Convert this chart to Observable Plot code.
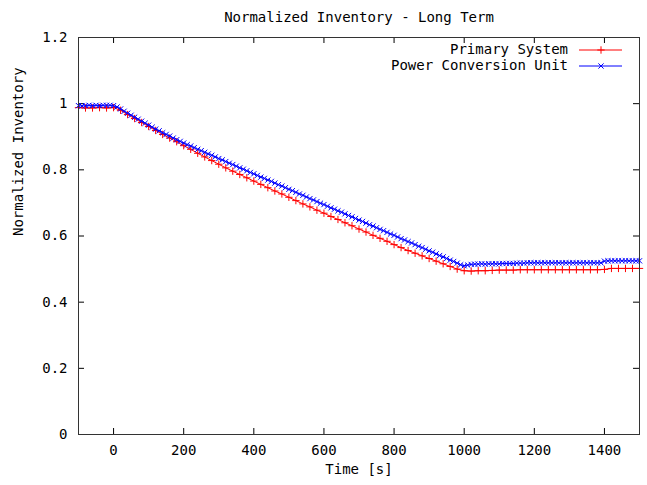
<!DOCTYPE html>
<html><head><meta charset="utf-8">
<script src="https://cdn.jsdelivr.net/npm/d3@7"></script>
<script src="https://cdn.jsdelivr.net/npm/@observablehq/plot@0.6"></script>
<style>body{margin:0;background:#fff;} svg{display:block}</style>
</head><body><div id="chart"></div>
<script>
const title = "Normalized Inventory - Long Term";
const xLabel = "Time [s]";
const yLabel = "Normalized Inventory";
const seriesNames = ["Primary System", "Power Conversion Unit"];
const seriesColors = ["#ff0000", "#0000ff"];
const seriesSymbols = ["plus", "times"];
const xTicks = [0, 200, 400, 600, 800, 1000, 1200, 1400];
const yTicks = [0, 0.2, 0.4, 0.6, 0.8, 1, 1.2];

// Primary System (sampled every 20 s)
const primaryTime = [
  -100,-80,-60,-40,-20,0,20,40,60,80,
  100,120,140,160,180,200,220,240,260,280,
  300,320,340,360,380,400,420,440,460,480,
  500,520,540,560,580,600,620,640,660,680,
  700,720,740,760,780,800,820,840,860,880,
  900,920,940,960,980,1000,1020,1040,1060,1080,
  1100,1120,1140,1160,1180,1200,1220,1240,1260,1280,
  1300,1320,1340,1360,1380,1400,1420,1440,1460,1480,
  1500];
const primaryValue = [
  0.988,0.987,0.987,0.988,0.987,0.988,0.980,0.967,0.955,0.943,
  0.931,0.919,0.907,0.896,0.885,0.873,0.862,0.850,0.839,0.828,
  0.817,0.806,0.796,0.786,0.776,0.766,0.756,0.746,0.736,0.727,
  0.717,0.707,0.697,0.688,0.678,0.669,0.659,0.650,0.640,0.631,
  0.621,0.612,0.602,0.593,0.584,0.574,0.565,0.556,0.548,0.540,
  0.532,0.524,0.516,0.508,0.500,0.495,0.494,0.495,0.495,0.496,
  0.497,0.497,0.497,0.498,0.498,0.498,0.498,0.498,0.498,0.498,
  0.498,0.498,0.498,0.498,0.498,0.499,0.502,0.502,0.502,0.502,
  0.502];

// Power Conversion Unit (sampled every 10 s)
const pcuTime = [
  -100,-90,-80,-70,-60,-50,-40,-30,-20,-10,
  0,10,20,30,40,50,60,70,80,90,
  100,110,120,130,140,150,160,170,180,190,
  200,210,220,230,240,250,260,270,280,290,
  300,310,320,330,340,350,360,370,380,390,
  400,410,420,430,440,450,460,470,480,490,
  500,510,520,530,540,550,560,570,580,590,
  600,610,620,630,640,650,660,670,680,690,
  700,710,720,730,740,750,760,770,780,790,
  800,810,820,830,840,850,860,870,880,890,
  900,910,920,930,940,950,960,970,980,990,
  1000,1010,1020,1030,1040,1050,1060,1070,1080,1090,
  1100,1110,1120,1130,1140,1150,1160,1170,1180,1190,
  1200,1210,1220,1230,1240,1250,1260,1270,1280,1290,
  1300,1310,1320,1330,1340,1350,1360,1370,1380,1390,
  1400,1410,1420,1430,1440,1450,1460,1470,1480,1490,
  1500];
const pcuValue = [
  0.994,0.993,0.994,0.995,0.994,0.995,0.994,0.995,0.995,0.995,
  0.994,0.990,0.984,0.977,0.971,0.965,0.959,0.953,0.947,0.941,
  0.935,0.929,0.923,0.918,0.912,0.907,0.902,0.896,0.891,0.886,
  0.881,0.876,0.872,0.867,0.862,0.858,0.853,0.848,0.844,0.839,
  0.834,0.830,0.825,0.820,0.816,0.811,0.806,0.802,0.797,0.792,
  0.788,0.783,0.778,0.774,0.769,0.765,0.760,0.755,0.751,0.746,
  0.741,0.737,0.732,0.727,0.723,0.718,0.713,0.709,0.704,0.699,
  0.695,0.690,0.685,0.681,0.676,0.672,0.667,0.662,0.658,0.653,
  0.648,0.644,0.639,0.634,0.630,0.625,0.620,0.616,0.611,0.606,
  0.602,0.597,0.592,0.588,0.583,0.579,0.574,0.569,0.565,0.560,
  0.555,0.551,0.546,0.541,0.537,0.532,0.527,0.523,0.518,0.513,
  0.510,0.512,0.514,0.515,0.515,0.516,0.515,0.516,0.516,0.516,
  0.516,0.517,0.517,0.517,0.517,0.518,0.518,0.518,0.519,0.519,
  0.519,0.519,0.519,0.519,0.519,0.519,0.519,0.519,0.519,0.519,
  0.519,0.519,0.519,0.519,0.519,0.519,0.519,0.519,0.519,0.519,
  0.524,0.525,0.525,0.525,0.525,0.525,0.525,0.525,0.525,0.525,
  0.525];

const primary = primaryTime.map((t, i) => ({t, v: primaryValue[i]}));
const pcu = pcuTime.map((t, i) => ({t, v: pcuValue[i]}));

const W = 647, H = 485, mt = 37, mb = 51, ml = 78, mr = 8;
const pw = W - ml - mr, ph = H - mt - mb;
const font = "'DejaVu Sans Mono', monospace";
const tickLen = 6;
const dotR = 2.5;

const chart = Plot.plot({
  width: W, height: H,
  marginTop: mt, marginBottom: mb, marginLeft: ml, marginRight: mr,
  style: {fontFamily: font, fontSize: "14px", background: "#fff", color: "#000", overflow: "visible"},
  x: {domain: [-100, 1500], ticks: xTicks, axis: null},
  y: {domain: [0, 1.2], ticks: yTicks, axis: null},
  marks: [
    Plot.axisX(xTicks, {tickSize: 0, tickPadding: 11, label: null, fontSize: 14, fontFamily: font, tickFormat: d => String(d)}),
    Plot.axisY(yTicks, {tickSize: 0, tickPadding: 11, label: null, fontSize: 14, fontFamily: font, tickFormat: d => d === 0 ? "0" : String(+d.toFixed(1))}),
    Plot.ruleX(xTicks, {x: d => d, insetTop: ph - tickLen, stroke: "#000"}),
    Plot.ruleX(xTicks, {x: d => d, insetBottom: ph - tickLen, stroke: "#000"}),
    Plot.ruleY(yTicks, {y: d => d, insetRight: pw - tickLen, stroke: "#000"}),
    Plot.ruleY(yTicks, {y: d => d, insetLeft: pw - tickLen, stroke: "#000"}),
    Plot.line(primary, {x: "t", y: "v", stroke: seriesColors[0], strokeWidth: 1}),
    Plot.dot(primary, {x: "t", y: "v", symbol: seriesSymbols[0], r: dotR, stroke: seriesColors[0], fill: "none", strokeWidth: 1}),
    Plot.line(pcu, {x: "t", y: "v", stroke: seriesColors[1], strokeWidth: 1}),
    Plot.dot(pcu, {x: "t", y: "v", symbol: seriesSymbols[1], r: dotR, stroke: seriesColors[1], fill: "none", strokeWidth: 1}),
    Plot.frame({stroke: "#333"}),
    Plot.text([title], {frameAnchor: "top", dy: -25, fontSize: 14, fontFamily: font, fill: "#000"}),
    Plot.text([xLabel], {frameAnchor: "bottom", dy: 39, fontSize: 14, fontFamily: font, fill: "#000"}),
    Plot.text([yLabel], {frameAnchor: "left", dx: -60, rotate: -90, fontSize: 14, fontFamily: font, fill: "#000"})
  ]
});

// Legend (gnuplot-style, top right inside the frame)
const svg = d3.select(chart);
const lg = svg.append("g").attr("font-family", font).attr("font-size", 14);
const symMap = {plus: d3.symbolPlus, times: d3.symbolTimes};
seriesNames.forEach((name, i) => {
  const y = 50 + i * 16;
  lg.append("text").attr("x", 568).attr("y", y).attr("dy", "0.32em")
    .attr("text-anchor", "end").attr("fill", "#000").text(name);
  lg.append("line").attr("x1", 579).attr("x2", 622).attr("y1", y).attr("y2", y)
    .attr("stroke", seriesColors[i]).attr("stroke-width", 1);
  lg.append("path").attr("transform", `translate(601,${y})`)
    .attr("d", d3.symbol(symMap[seriesSymbols[i]], dotR * dotR * Math.PI)())
    .attr("fill", "none").attr("stroke", seriesColors[i]);
});

document.getElementById("chart").appendChild(chart);
</script>
</body></html>
